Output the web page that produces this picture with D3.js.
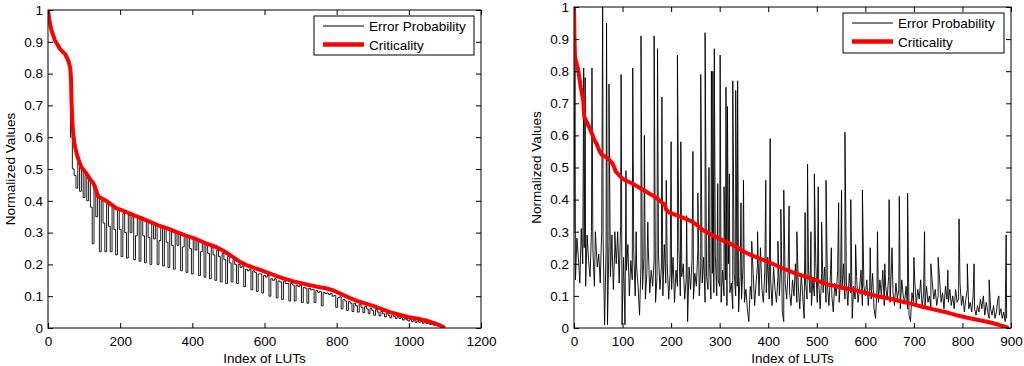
<!DOCTYPE html>
<html>
<head>
<meta charset="utf-8">
<script src="https://cdn.jsdelivr.net/npm/d3@7"></script>
<style>
body { margin: 0; background: #fff; }
text { font-family: "Liberation Sans", Arial, sans-serif; }
</style>
</head>
<body>
<svg id="chart" width="1024" height="366"></svg>
<script>
// ---- data ----
const yTicks = [0, 0.1, 0.2, 0.3, 0.4, 0.5, 0.6, 0.7, 0.8, 0.9, 1];
const xTicksL = [0, 200, 400, 600, 800, 1000, 1200];
const xTicksR = [0, 100, 200, 300, 400, 500, 600, 700, 800, 900];
const legendLabels = ["Error Probability", "Criticality"];

// left panel: criticality [index, value]
const critL = [[0,1.0],[5,0.96],[10,0.935],[19,0.905],[27,0.89],[33,0.878],[40,0.87],[47,0.862],[53,0.85],[58,0.835],
  [62,0.815],[64,0.78],[65,0.72],[67,0.66],[70,0.61],[74,0.575],[79,0.55],[86,0.525],[93,0.505],[100,0.495],
  [107,0.485],[115,0.47],[126,0.455],[133,0.435],[139,0.413],[148,0.408],[158,0.402],[170,0.393],[190,0.376],[210,0.368],
  [237,0.355],[260,0.345],[283,0.334],[305,0.323],[329,0.314],[355,0.302],[384,0.29],[410,0.28],[440,0.265],[465,0.255],
  [486,0.243],[510,0.225],[532,0.208],[550,0.198],[569,0.19],[590,0.182],[606,0.175],[630,0.165],[652,0.156],[675,0.148],
  [698,0.142],[720,0.136],[745,0.13],[770,0.125],[791,0.118],[810,0.108],[837,0.094],[860,0.084],[883,0.076],[905,0.068],
  [929,0.058],[950,0.049],[976,0.041],[1000,0.034],[1022,0.03],[1050,0.023],[1070,0.015],[1085,0.009],[1096,0.003]];

// left panel: error probability, one value every 5 LUTs
const errLStep = 5;
const errL = [
  1.0,0.955,0.93,0.915,0.9,0.89,0.88,0.875,0.865,0.86,0.85,0.84,0.82,0.60,0.5,0.48,0.44,0.52,0.43,0.5,
  0.41,0.48,0.4,0.47,0.38,0.265,0.45,0.35,0.42,0.24,0.40,0.33,0.24,0.39,0.32,0.24,0.385,0.31,0.23,0.37,
  0.31,0.225,0.36,0.3,0.22,0.355,0.3,0.35,0.215,0.29,0.345,0.21,0.34,0.29,0.205,0.335,0.285,0.2,0.33,0.28,
  0.325,0.2,0.275,0.32,0.195,0.315,0.27,0.19,0.31,0.26,0.185,0.3,0.26,0.295,0.18,0.255,0.29,0.175,0.285,0.25,
  0.17,0.28,0.245,0.275,0.165,0.24,0.27,0.16,0.26,0.235,0.155,0.255,0.23,0.15,0.245,0.225,0.145,0.235,0.215,0.14,
  0.225,0.205,0.145,0.215,0.2,0.14,0.2,0.19,0.195,0.13,0.185,0.18,0.185,0.12,0.18,0.175,0.115,0.17,0.17,0.11,
  0.165,0.16,0.165,0.1,0.155,0.15,0.155,0.095,0.148,0.145,0.09,0.148,0.14,0.14,0.085,0.14,0.135,0.085,0.135,0.13,
  0.135,0.08,0.128,0.125,0.078,0.125,0.12,0.122,0.08,0.118,0.112,0.115,0.07,0.112,0.108,0.11,0.105,0.108,0.1,0.102,
  0.065,0.095,0.098,0.06,0.09,0.085,0.055,0.083,0.078,0.052,0.078,0.07,0.05,0.075,0.065,0.048,0.068,0.06,0.045,0.062,
  0.055,0.04,0.058,0.05,0.038,0.052,0.045,0.035,0.048,0.04,0.032,0.042,0.036,0.03,0.037,0.03,0.034,0.025,0.03,0.026,
  0.022,0.028,0.02,0.025,0.018,0.022,0.018,0.02,0.015,0.018,0.014,0.015,0.011,0.012,0.009,0.009,0.007,0.006,0.004,0.002];

// right panel: criticality [index, value]
const critR = [[0,1.0],[1,0.9],[2,0.845],[5,0.825],[8,0.81],[11,0.78],[14,0.75],[17,0.725],[19,0.71],[21,0.66],
  [25,0.645],[31,0.627],[37,0.605],[42,0.586],[46,0.575],[49,0.565],[53,0.55],[57,0.54],[63,0.535],[69,0.529],
  [75,0.52],[79,0.513],[83,0.5],[86,0.487],[92,0.478],[99,0.466],[110,0.457],[120,0.45],[135,0.437],[148,0.425],
  [162,0.413],[175,0.399],[182,0.39],[187,0.385],[190,0.368],[196,0.36],[210,0.352],[225,0.343],[244,0.331],[255,0.318],
  [265,0.305],[280,0.293],[292,0.284],[305,0.274],[320,0.264],[335,0.252],[352,0.236],[370,0.224],[385,0.215],[400,0.206],
  [419,0.193],[435,0.183],[453,0.172],[470,0.163],[488,0.155],[505,0.145],[522,0.136],[540,0.13],[557,0.124],[575,0.119],
  [591,0.113],[610,0.105],[627,0.098],[649,0.092],[670,0.084],[696,0.075],[718,0.066],[740,0.058],[764,0.05],[787,0.04],
  [810,0.032],[833,0.025],[855,0.018],[875,0.01],[892,0.002]];

// right panel: error probability background, one value every 3 LUTs
const errRStep = 3;
const errR = [
  0.3,0.15,0.28,0.22,0.14,0.31,0.2,0.25,0.13,0.29,0.21,0.16,0.3,0.24,0.13,0.27,0.19,0.23,0.14,0.3,
  0.28,0.01,0.24,0.01,0.27,0.16,0.29,0.12,0.25,0.2,0.3,0.14,0.32,0.01,0.22,0.01,0.18,0.26,0.1,0.21,
  0.15,0.24,0.1,0.19,0.13,0.04,0.2,0.12,0.22,0.09,0.17,0.25,0.11,0.18,0.13,0.21,0.08,0.16,0.23,0.12,
  0.19,0.1,0.26,0.14,0.2,0.09,0.17,0.12,0.22,0.08,0.18,0.13,0.25,0.1,0.16,0.2,0.09,0.15,0.02,0.19,
  0.12,0.21,0.09,0.17,0.13,0.24,0.1,0.19,0.14,0.22,0.08,0.16,0.12,0.2,0.09,0.17,0.11,0.23,0.1,0.15,
  0.13,0.08,0.18,0.1,0.15,0.07,0.2,0.11,0.14,0.06,0.17,0.1,0.13,0.05,0.16,0.09,0.19,0.08,0.12,0.06,
  0.02,0.13,0.09,0.17,0.07,0.14,0.2,0.1,0.25,0.12,0.08,0.18,0.11,0.22,0.09,0.15,0.07,0.19,0.12,0.08,
  0.16,0.1,0.21,0.05,0.02,0.14,0.09,0.18,0.11,0.07,0.15,0.1,0.2,0.08,0.13,0.06,0.17,0.1,0.03,0.14,
  0.09,0.18,0.11,0.07,0.15,0.1,0.2,0.08,0.14,0.06,0.17,0.11,0.19,0.08,0.13,0.07,0.16,0.1,0.05,0.14,
  0.1,0.18,0.08,0.15,0.12,0.2,0.09,0.14,0.07,0.17,0.11,0.03,0.13,0.09,0.16,0.08,0.12,0.18,0.07,0.13,
  0.1,0.15,0.07,0.13,0.09,0.17,0.06,0.03,0.12,0.08,0.15,0.1,0.18,0.07,0.13,0.09,0.16,0.08,0.2,0.11,
  0.07,0.14,0.09,0.12,0.06,0.15,0.1,0.08,0.13,0.06,0.04,0.02,0.11,0.08,0.14,0.07,0.12,0.09,0.15,0.06,
  0.11,0.07,0.13,0.08,0.1,0.06,0.14,0.09,0.12,0.07,0.1,0.15,0.08,0.11,0.06,0.13,0.09,0.08,0.12,0.07,
  0.1,0.06,0.12,0.08,0.09,0.14,0.07,0.1,0.05,0.09,0.12,0.06,0.08,0.05,0.1,0.06,0.04,0.07,0.05,0.09,
  0.06,0.1,0.04,0.08,0.05,0.03,0.06,0.04,0.07,0.03,0.05,0.09,0.04,0.06,0.03,0.05,0.02,0.03];

// right panel: the tall spikes [index, value]
const spikesR = [[2,0.84],[20,0.81],[23,0.78],[37,0.81],[44,0.3],[59,1.0],[67,0.95],[72,0.76],[84,0.3],[97,0.79],
  [107,0.49],[121,0.81],[128,0.3],[138,0.91],[145,0.6],[152,0.33],[165,0.91],[172,0.87],[181,0.72],[190,0.46],
  [200,0.58],[213,0.85],[220,0.58],[232,0.35],[245,0.55],[255,0.42],[261,0.79],[270,0.92],[278,0.5],[283,0.8],
  [286,0.8],[289,0.87],[296,0.45],[301,0.85],[309,0.44],[313,0.75],[316,0.69],[320,0.48],[327,0.77],[333,0.74],
  [337,0.77],[344,0.39],[349,0.46],[366,0.27],[378,0.3],[395,0.46],[404,0.59],[420,0.27],[426,0.37],[432,0.43],
  [443,0.38],[459,0.3],[476,0.36],[481,0.51],[488,0.3],[495,0.48],[503,0.44],[510,0.33],[519,0.46],[530,0.25],
  [545,0.39],[551,0.43],[558,0.61],[570,0.4],[580,0.26],[594,0.43],[610,0.25],[625,0.3],[640,0.2],[649,0.4],
  [655,0.25],[670,0.41],[687,0.42],[700,0.22],[722,0.3],[735,0.2],[750,0.22],[770,0.18],[793,0.34],[810,0.2],
  [824,0.2],[855,0.15],[875,0.1],[890,0.29]];

// ---- drawing ----
const svg = d3.select("#chart");
const defs = svg.append("defs");
const fmtY = d => (d === 0 || d === 1) ? String(d) : d.toFixed(1);

function drawPanel(p) {
    const x = d3.scaleLinear().domain(p.xDomain).range([p.left, p.right]);
    const y = d3.scaleLinear().domain([0, 1]).range([p.bottom, p.top]);
    const g = svg.append("g");

    defs.append("clipPath").attr("id", "clip" + p.id)
        .append("rect")
        .attr("x", p.left).attr("y", p.top)
        .attr("width", p.right - p.left).attr("height", p.bottom - p.top);

    const line = d3.line().x(d => x(d[0])).y(d => y(d[1]));

    const plot = g.append("g").attr("clip-path", `url(#clip${p.id})`);
    plot.append("path").datum(p.err)
        .attr("d", line.curve(p.errCurve)(p.err))
        .attr("fill", "none")
        .attr("stroke", "#000")
        .attr("stroke-width", 0.9);
    line.curve(d3.curveLinear);
    plot.append("path").datum(p.crit)
        .attr("d", line)
        .attr("fill", "none")
        .attr("stroke", "#ff0000")
        .attr("stroke-width", 4)
        .attr("stroke-linejoin", "round")
        .attr("stroke-linecap", "round");

    // axes, ticks point inwards on all four sides
    const addAxis = (axis, tx, ty) => g.append("g")
        .attr("transform", `translate(${tx},${ty})`)
        .call(axis)
        .call(a => a.select(".domain").remove())
        .attr("font-size", 13.5)
        .attr("font-family", '"Liberation Sans", Arial, sans-serif');

    addAxis(d3.axisBottom(x).tickValues(p.xTicks).tickSize(-5).tickPadding(8).tickFormat(d3.format("d")), 0, p.bottom);
    addAxis(d3.axisTop(x).tickValues(p.xTicks).tickSize(-5).tickFormat(""), 0, p.top);
    addAxis(d3.axisLeft(y).tickValues(yTicks).tickSize(-5).tickPadding(5).tickFormat(fmtY), p.left, 0);
    addAxis(d3.axisRight(y).tickValues(yTicks).tickSize(-5).tickFormat(""), p.right, 0);

    g.append("rect")
        .attr("x", p.left).attr("y", p.top)
        .attr("width", p.right - p.left).attr("height", p.bottom - p.top)
        .attr("fill", "none")
        .attr("stroke", "#000");

    g.append("text")
        .attr("x", (p.left + p.right) / 2).attr("y", 363)
        .attr("text-anchor", "middle")
        .attr("font-size", 13.5)
        .text("Index of LUTs");

    g.append("text")
        .attr("transform", `translate(${p.yLabelX},${(p.top + p.bottom) / 2}) rotate(-90)`)
        .attr("text-anchor", "middle")
        .attr("font-size", 13.5)
        .text("Normalized Values");

    // legend
    const lg = g.append("g").attr("transform", `translate(${p.legX},${p.legY})`);
    lg.append("rect")
        .attr("width", p.legW).attr("height", p.legH)
        .attr("fill", "#fff").attr("stroke", "#000");
    const rows = [{ c: "#000", w: 1, dy: 10 }, { c: "#ff0000", w: 4.5, dy: 28.5 }];
    rows.forEach((r, i) => {
        lg.append("line")
            .attr("x1", 9).attr("x2", 50)
            .attr("y1", r.dy).attr("y2", r.dy)
            .attr("stroke", r.c).attr("stroke-width", r.w);
        lg.append("text")
            .attr("x", 55).attr("y", r.dy + 5)
            .attr("font-size", 13.5)
            .text(legendLabels[i]);
    });
}

drawPanel({
    id: "L", left: 48, right: 481, top: 10, bottom: 328,
    xDomain: [0, 1200], xTicks: xTicksL, yLabelX: 15,
    err: errL.map((v, i) => [i * errLStep, v]),
    errCurve: d3.curveStep,
    crit: critL,
    legX: 314, legY: 16, legW: 160, legH: 39
});

drawPanel({
    id: "R", left: 574, right: 1011, top: 7, bottom: 328,
    xDomain: [0, 900], xTicks: xTicksR, yLabelX: 541,
    err: errR.map((v, i) => [i * errRStep, v]).concat(spikesR).sort((a, b) => a[0] - b[0]),
    errCurve: d3.curveLinear,
    crit: critR,
    legX: 843, legY: 13, legW: 161, legH: 40
});
</script>
</body>
</html>
